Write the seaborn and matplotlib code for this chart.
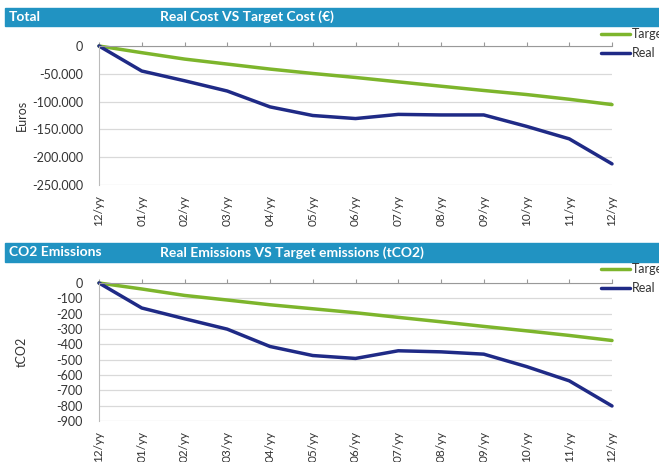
import pandas as pd
import matplotlib.pyplot as plt
import seaborn as sns
from matplotlib.patches import Rectangle
from matplotlib.ticker import FuncFormatter

# data
months = ['12/yy', '01/yy', '02/yy', '03/yy', '04/yy', '05/yy', '06/yy',
          '07/yy', '08/yy', '09/yy', '10/yy', '11/yy', '12/yy']
cost_target = [0, -12000, -23500, -32500, -41500, -49400, -56600,
               -64500, -72300, -80000, -87300, -95800, -105400]
cost_real = [0, -45000, -62500, -81000, -109500, -125000, -130500,
             -123000, -124000, -124000, -144500, -167000, -212000]
co2_target = [0, -39, -81, -111, -142, -168, -194,
              -224, -253, -283, -312, -342, -375]
co2_real = [0, -163, -233, -301, -414, -473, -492,
            -442, -449, -464, -545, -638, -802]

GREEN = '#7DB52C'
NAVY = '#1F2A86'
BAND = '#2193C2'

sns.set_style('white')
plt.rcParams['font.family'] = ['Lato', 'DejaVu Sans']

fig = plt.figure(figsize=(6.59, 4.62), dpi=100)
W, H = 659, 462


def box(x0, y0, x1, y1):
    # pixel box (top-left origin) -> figure fraction rect
    return [x0 / W, 1 - y1 / H, (x1 - x0) / W, (y1 - y0) / H]


def make_df(target, real):
    idx = list(range(len(months)))
    return pd.DataFrame({
        'x': idx * 2,
        'value': target + real,
        'series': ['Target'] * len(idx) + ['Real'] * len(idx),
    })


def draw_panel(rect, df, ylim, yticks, ylabel):
    ax = fig.add_axes(rect)
    sns.lineplot(data=df, x='x', y='value', hue='series',
                 palette={'Target': GREEN, 'Real': NAVY},
                 hue_order=['Target', 'Real'], linewidth=2.5,
                 legend=False, ax=ax, clip_on=False)
    ax.set_xlim(0, len(months) - 1)
    ax.set_ylim(*ylim)
    ax.set_yticks(yticks)
    ax.yaxis.set_major_formatter(FuncFormatter(lambda v, p: f'{v:,.0f}'.replace(',', '.')))
    ax.set_xticks(range(len(months)))
    ax.set_xticklabels(months, rotation=90, fontsize=8.5, color='#333333')
    ax.tick_params(axis='x', top=True, bottom=False, labeltop=False,
                   labelbottom=True, direction='out', length=3,
                   color='#999999', pad=4)
    ax.tick_params(axis='y', left=False, labelsize=9, labelcolor='#333333', pad=8)
    ax.grid(axis='y', color='#d9d9d9', linewidth=0.9)
    ax.grid(axis='x', visible=False)
    ax.spines['right'].set_visible(False)
    ax.spines['bottom'].set_visible(False)
    ax.spines['top'].set_color('#999999')
    ax.spines['left'].set_color('#bbbbbb')
    ax.set_xlabel('')
    ax.set_ylabel(ylabel, fontsize=9, color='#333333')
    ax.yaxis.set_label_coords(-0.138, 0.5)
    return ax


ax1 = draw_panel(box(99, 46, 612, 185), make_df(cost_target, cost_real),
                 (-250000, 0), range(-250000, 1, 50000), 'Euros')
ax2 = draw_panel(box(99, 283, 612, 421), make_df(co2_target, co2_real),
                 (-900, 0), range(-900, 1, 100), 'tCO2')

# header bands
for (y0, y1), left, title in [((8, 26), 'Total', 'Real Cost VS Target Cost (€)'),
                              ((243, 262), 'CO2 Emissions',
                               'Real Emissions VS Target emissions (tCO2)')]:
    fig.patches.append(Rectangle((5 / W, 1 - y1 / H), 1, (y1 - y0) / H,
                                 transform=fig.transFigure, color=BAND, zorder=0))
    yc = 1 - (y0 + y1) / 2 / H
    fig.text(9 / W, yc, left, color='white', fontsize=10, fontweight='bold', va='center')
    fig.text(160 / W, yc, title, color='white', fontsize=10, fontweight='bold', va='center')

# legends, cut by the right edge just like the original
for ax, ytop in [(ax1, 28), (ax2, 263)]:
    handles = ax.get_lines()[:2]
    fig.legend(handles, ['Target', 'Real'], loc='upper left',
               bbox_to_anchor=(601 / W, 1 - ytop / H), frameon=False,
               fontsize=9, handlelength=2.3, handletextpad=0.2,
               labelspacing=0.55, borderpad=0, borderaxespad=0,
               labelcolor='#333333')

fig.savefig('out.png', dpi=100)
